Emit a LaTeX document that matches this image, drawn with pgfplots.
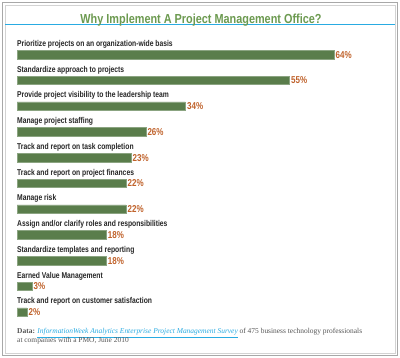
\documentclass[border=0pt]{standalone}
\usepackage{fontspec}
\usepackage{pgfplots}
\pgfplotsset{compat=1.18}
\newfontfamily\narrow[FakeStretch=0.8]{Liberation Sans}
\newfontfamily\narrowt[FakeStretch=0.83]{Liberation Sans}
\newfontfamily\serif{Liberation Serif}
\setmainfont{Liberation Sans}
\definecolor{barg}{HTML}{5A7D4B}
\definecolor{titleg}{HTML}{6C9A50}
\definecolor{valo}{HTML}{C0622B}
\definecolor{cyanl}{HTML}{29ABE2}
\definecolor{foot}{HTML}{555555}
\definecolor{bord}{HTML}{A8A8A8}
\begin{document}
\begin{tikzpicture}
\path[use as bounding box,fill=white] (0,0) rectangle (400pt,358pt);
\draw[bord,line width=1.6pt] (2.5pt,2.5pt) rectangle (397.5pt,355.5pt);
\draw[bord!50,line width=0.8pt] (5pt,5pt) rectangle (395pt,353pt);
\draw[cyanl,line width=0.9pt] (5pt,333.3pt) -- (395pt,333.3pt);
\node[anchor=base,inner sep=0pt,text=titleg,font=\narrowt\bfseries\fontsize{13.1}{15}\selectfont] at (201pt,334pt) {Why Implement A Project Management Office?};
\begin{axis}[
  at={(17pt,33pt)}, anchor=south west,
  scale only axis, width=317pt, height=283.25pt,
  xmin=0, xmax=64, ymin=-0.5, ymax=10.5,
  y dir=reverse, hide axis, clip=false,
  xbar, bar width=8.5pt, bar shift=0pt,
  /pgf/number format/assume math mode=true,
  nodes near coords={\pgfmathprintnumber\pgfplotspointmeta\%},
  every node near coord/.append style={anchor=west, inner sep=1.5pt, text=valo, font=\narrow\bfseries\fontsize{10}{11}\selectfont},
]
\addplot[fill=barg, draw=barg!70!white, line width=0.5pt] coordinates {
(64,0) (55,1) (34,2) (26,3) (23,4) (22,5) (22,6) (18,7) (18,8) (3,9) (2,10)};
\tikzset{lab/.style={anchor=base west, inner sep=0pt, yshift=8.3pt, font=\narrow\bfseries\fontsize{8.45}{10}\selectfont, text=black!85}}
\node[lab] at (axis cs:0,0) {Prioritize projects on an organization-wide basis};
\node[lab] at (axis cs:0,1) {Standardize approach to projects};
\node[lab] at (axis cs:0,2) {Provide project visibility to the leadership team};
\node[lab] at (axis cs:0,3) {Manage project staffing};
\node[lab] at (axis cs:0,4) {Track and report on task completion};
\node[lab] at (axis cs:0,5) {Track and report on project finances};
\node[lab] at (axis cs:0,6) {Manage risk};
\node[lab] at (axis cs:0,7) {Assign and/or clarify roles and responsibilities};
\node[lab] at (axis cs:0,8) {Standardize templates and reporting};
\node[lab] at (axis cs:0,9) {Earned Value Management};
\node[lab] at (axis cs:0,10) {Track and report on customer satisfaction};
\end{axis}
\node[anchor=base west, inner sep=0pt, text=foot, font=\serif\fontsize{7.45}{9}\selectfont] at (17pt,24pt) {\textbf{Data:} \textcolor{cyanl}{\underline{\textit{InformationWeek Analytics Enterprise Project Management Survey}}} of 475 business technology professionals};
\node[anchor=base west, inner sep=0pt, text=foot, font=\serif\fontsize{7.45}{9}\selectfont] at (17pt,15pt) {at companies with a PMO, June 2010};
\end{tikzpicture}
\end{document}
